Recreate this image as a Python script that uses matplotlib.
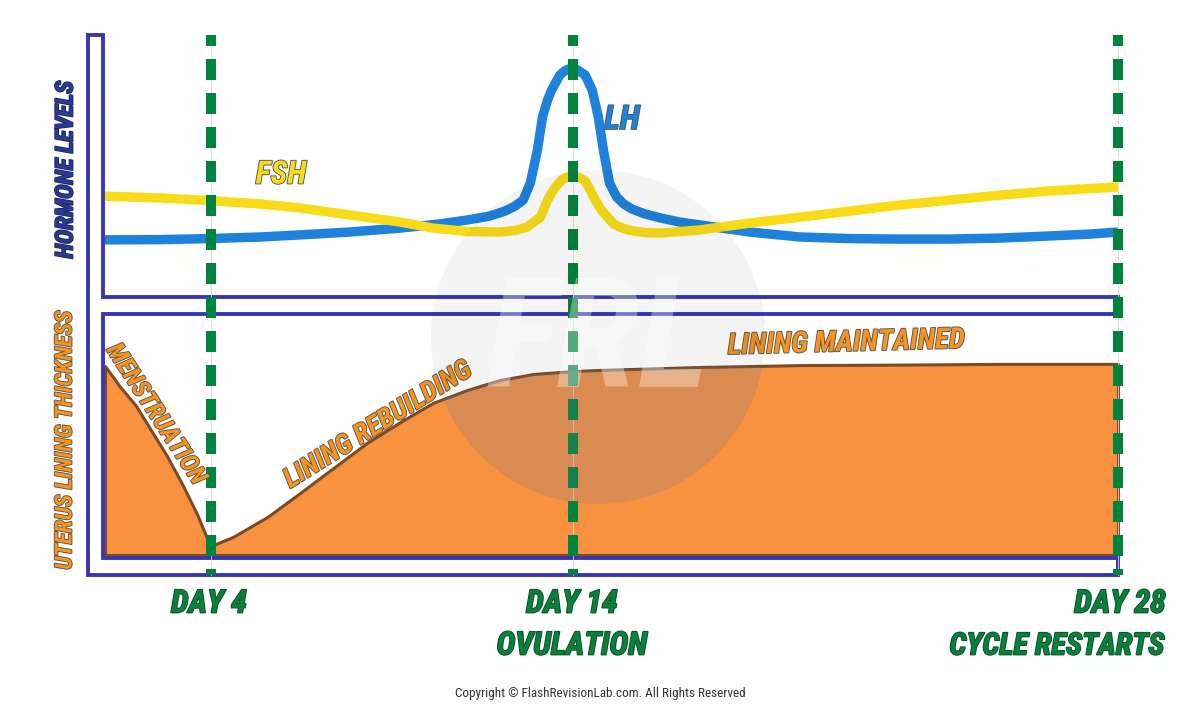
import matplotlib
matplotlib.use('Agg')
import matplotlib.pyplot as plt
from matplotlib.patches import Polygon, Circle
import matplotlib.patheffects as pe
import logging
logging.getLogger('matplotlib.font_manager').setLevel(logging.ERROR)

# ---------------- data (x = position through the cycle, % of panel width) ----------------
lh_x = [0.0, 5.6, 10.5, 15.5, 19.4, 24.3, 29.3, 33.2, 35.9, 38.1, 39.6, 40.6, 41.4, 42.1,
        42.8, 43.3, 43.8, 44.2, 45.0, 45.6, 46.2, 46.8, 47.5, 48.2, 48.8, 49.3, 49.9, 50.6,
        51.3, 52.1, 53.4, 54.9, 56.8, 58.8, 63.7, 68.7, 73.6, 78.5, 83.4, 88.4, 93.3, 97.2, 100.0]
lh_level = [21.8, 21.9, 22.3, 22.9, 23.7, 24.8, 26.3, 27.9, 29.4, 30.9, 32.8, 34.7, 37.0, 43.5,
            56.1, 68.7, 75.2, 79.0, 84.7, 86.6, 87.4, 86.6, 84.7, 79.0, 68.7, 56.1, 43.5, 38.2,
            35.5, 33.6, 31.7, 30.2, 28.6, 27.5, 24.8, 22.9, 22.3, 22.1, 22.1, 22.5, 23.3, 24.0, 24.8]

fsh_x = [0.0, 5.6, 10.5, 15.5, 19.4, 24.3, 29.3, 32.5, 35.9, 39.1, 40.6, 41.8, 43.1, 43.8,
         44.5, 45.2, 45.7, 46.2, 46.8, 47.5, 48.0, 48.5, 49.1, 49.7, 50.3, 50.9, 51.9, 53.4,
         54.9, 58.8, 63.7, 68.7, 73.6, 78.5, 83.4, 88.4, 93.3, 100.0]
fsh_level = [38.5, 37.8, 36.8, 35.5, 34.0, 31.3, 28.6, 26.3, 25.0, 24.8, 25.4, 26.7, 30.5, 37.0,
             41.6, 44.7, 45.8, 46.2, 45.8, 44.3, 40.8, 37.0, 33.2, 30.5, 27.9, 26.7, 25.4, 24.6,
             24.4, 25.6, 28.2, 30.5, 32.8, 35.1, 37.0, 38.9, 40.5, 42.0]

lining_x = [0.2, 1.7, 3.2, 4.6, 6.3, 7.9, 9.3, 10.0, 10.6, 12.8, 16.2, 19.4, 22.7, 26.0,
            29.3, 32.5, 35.9, 39.1, 42.4, 46.2, 49.0, 58.8, 68.7, 78.5, 88.4, 100.0]
lining_thickness = [78.4, 69.7, 62.2, 52.7, 41.1, 28.6, 16.6, 9.5, 3.7, 7.5, 15.8, 25.7, 36.1, 46.5,
                    55.2, 63.1, 68.5, 72.6, 75.1, 76.3, 76.8, 78.0, 78.8, 79.0, 79.3, 79.3]

day_positions = [10.6, 46.3, 100.0]
day_labels = ['DAY 4', 'DAY 14', 'DAY 28']
day_notes = ['', 'OVULATION', 'CYCLE RESTARTS']

# ---------------- style ----------------
W, H = 1200, 705
FRAME = '#3B35B6'
GREEN = '#00843D'
BLUE = '#1E82DC'
YELLOW = '#F8DC1A'
ORANGE = '#F99240'
BROWN = '#7A4B25'
TEXT_ORANGE = '#F7941D'
COMIC = ['Roboto Condensed', 'Roboto', 'DejaVu Sans']

fig = plt.figure(figsize=(12, 7.05), dpi=100)
fig.patch.set_facecolor('white')


def fbox(x0, y0, x1, y1):
    return [x0 / W, 1 - y1 / H, (x1 - x0) / W, (y1 - y0) / H]


def fpt(x, y):
    return (x / W, 1 - y / H)


ax_h = fig.add_axes(fbox(103, 35, 1118, 297))
ax_l = fig.add_axes(fbox(103, 314, 1118, 555))
ax_d = fig.add_axes(fbox(103, 35, 1118, 575))
for a in (ax_h, ax_l, ax_d):
    a.set_xlim(0, 100)
    a.axis('off')
    a.patch.set_alpha(0)
ax_h.set_ylim(0, 100)
ax_l.set_ylim(0, 100)
ax_d.set_ylim(0, 1)

# hormone curves
ax_h.plot(lh_x, lh_level, color=BLUE, lw=6.8, solid_capstyle='butt', solid_joinstyle='round',
          clip_on=False, zorder=2)
ax_h.plot(fsh_x, fsh_level, color=YELLOW, lw=6.8, solid_capstyle='butt', solid_joinstyle='round',
          clip_on=False, zorder=3)

# lining
fill = ax_l.fill_between(lining_x, 0, lining_thickness, facecolor=ORANGE, edgecolor=BROWN,
                         lw=2.2, clip_on=False, zorder=2)

# frame outline
frame_px = [(88, 35), (103, 35), (103, 297), (1118, 297), (1118, 314), (103, 314),
            (103, 558), (1118, 558), (1118, 575), (88, 575)]
ax_d.add_patch(Polygon([fpt(x, y) for x, y in frame_px], closed=True, fill=False,
                       edgecolor=FRAME, lw=2.8, joinstyle='miter',
                       transform=fig.transFigure, clip_on=False, zorder=1))

# day lines
for p in day_positions:
    ax_d.plot([p, p], [1, 0], color='#F7CDD5', lw=0.6, clip_on=False, zorder=2)
    ax_d.plot([p, p], [1, 0], color=GREEN, lw=7.2, linestyle=(1.0, (2.1, 1.3)),
              dash_capstyle='butt', clip_on=False, zorder=3)

# labels
outline = [pe.withStroke(linewidth=1.3, foreground='#555555')]
tk = dict(family=COMIC, weight='heavy', style='italic', ha='center', va='center',
          path_effects=outline, zorder=0.5)

fig.text(*fpt(66, 170), 'HORMONE LEVELS', rotation=90, fontsize=17.5, color='#2B3990',
         **{**tk, 'path_effects': [pe.withStroke(linewidth=1.3, foreground='#1c2560')]})
fig.text(*fpt(65, 440), 'UTERUS LINING THICKNESS', rotation=90, fontsize=17, color=TEXT_ORANGE, **tk)
fig.text(*fpt(281, 175), 'FSH', fontsize=23, color=YELLOW, **tk)
fig.text(*fpt(622, 120), 'LH', fontsize=24, color=BLUE, **tk)
fig.text(*fpt(156, 414), 'MENSTRUATION', rotation=-57, fontsize=18, color=TEXT_ORANGE, **tk)
fig.text(*fpt(378, 425), 'LINING REBUILDING', rotation=32, fontsize=20, color=TEXT_ORANGE, **tk)
fig.text(*fpt(846, 343), 'LINING MAINTAINED', rotation=1.5, fontsize=21, color=TEXT_ORANGE, **tk)

gk = dict(family=COMIC, weight='heavy', style='italic', va='center', fontsize=23,
          color='#0B7F3C', path_effects=[pe.withStroke(linewidth=1.3, foreground='#084d25')],
          zorder=0.5)
fig.text(*fpt(209, 604), day_labels[0], ha='center', **gk)
fig.text(*fpt(572, 604), day_labels[1], ha='center', **gk)
fig.text(*fpt(572, 646), day_notes[1], ha='center', **gk)
fig.text(*fpt(1166, 604), day_labels[2], ha='right', **gk)
fig.text(*fpt(1164, 646), day_notes[2], ha='right', **{**gk, 'fontsize': 22})

fig.text(*fpt(600, 693), 'Copyright \u00a9 FlashRevisionLab.com. All Rights Reserved',
         family=COMIC, fontsize=9.5, color='#333333', ha='center', va='center')

# watermark
wm = Circle((5.98, (H - 337) / 100), 1.67, transform=fig.dpi_scale_trans,
            facecolor='black', alpha=0.045, edgecolor='none', zorder=1)
fig.add_artist(wm)
wm2 = Circle((5.98, (H - 337) / 100), 1.67, transform=fig.dpi_scale_trans,
             facecolor=(127 / 255, 139 / 255, 171 / 255), alpha=0.19, edgecolor='none', zorder=1.1)
wm2.set_clip_path(fill.get_paths()[0], ax_l.transData)
fig.add_artist(wm2)
fig.text(*fpt(598, 345), 'FRL', family=COMIC, fontsize=110, weight='heavy', style='italic',
         color='white', alpha=0.35, ha='center', va='center', zorder=1.2)

fig.savefig('out.png', dpi=100, facecolor='white')
